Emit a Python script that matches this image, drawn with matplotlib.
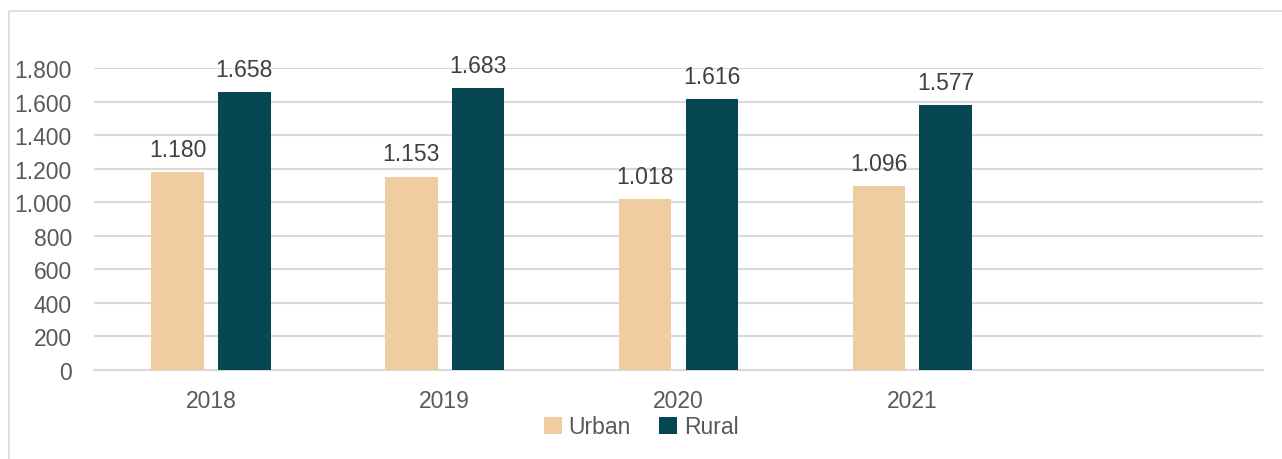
import matplotlib
matplotlib.use("Agg")
import matplotlib.pyplot as plt
import numpy as np
from matplotlib.patches import Rectangle

years = ["2018", "2019", "2020", "2021"]
urban = [1180, 1153, 1018, 1096]
rural = [1658, 1683, 1616, 1577]
yticks = [0, 200, 400, 600, 800, 1000, 1200, 1400, 1600, 1800]

URBAN_COLOR = "#F0CDA0"
RURAL_COLOR = "#074751"
TEXT_COLOR = "#595959"
GRID_COLOR = "#D9D9D9"
FS = 16.5


def dot_fmt(v):
    # Excel style: dot as thousands separator
    return f"{v:,}".replace(",", ".")


plt.rcParams["font.family"] = ["Liberation Sans", "DejaVu Sans"]

W, H = 1282, 460
fig = plt.figure(figsize=(W / 100, H / 100), dpi=100)

# outer chart border (light gray frame, runs off the right and bottom edges)
fig.patches.append(Rectangle((9 / W, -0.1), 1.2, 1.1 - 12 / H, transform=fig.transFigure,
                             fill=False, edgecolor="#D9D9D9", linewidth=1.2))

ax = fig.add_axes([94 / W, 1 - 371 / H, (1263 - 94) / W, (371 - 69) / H])

x = np.arange(len(years))
bw = 0.225
gap = 0.06
b1 = ax.bar(x - (bw + gap) / 2, urban, bw, color=URBAN_COLOR, zorder=3, label="Urban")
b2 = ax.bar(x + (bw + gap) / 2, rural, bw, color=RURAL_COLOR, zorder=3, label="Rural")

for bars, vals in ((b1, urban), (b2, rural)):
    for rect, v in zip(bars, vals):
        ax.annotate(dot_fmt(v), (rect.get_x() + rect.get_width() / 2, v),
                    xytext=(0, 8), textcoords="offset points",
                    ha="center", va="bottom", fontsize=FS, color="#404040",
                    annotation_clip=False)

ax.set_xlim(-0.5, 4.5)
ax.set_ylim(0, 1800)
ax.set_xticks(x)
ax.set_xticklabels(years)
ax.set_yticks(yticks)
ax.set_yticklabels([dot_fmt(v) for v in yticks])
ax.tick_params(axis="both", length=0, labelsize=FS, labelcolor=TEXT_COLOR)
ax.tick_params(axis="x", pad=14)
ax.tick_params(axis="y", pad=16)

ax.grid(axis="y", color=GRID_COLOR, linewidth=1.5, zorder=0)
for s in ("top", "right", "left"):
    ax.spines[s].set_visible(False)
ax.spines["bottom"].set_color(GRID_COLOR)
ax.spines["bottom"].set_linewidth(1.5)

ax.legend(loc="center", bbox_to_anchor=(0.5, 1 - 428 / H), bbox_transform=fig.transFigure,
          ncol=2, frameon=False, fontsize=FS, labelcolor=TEXT_COLOR,
          handlelength=0.8, handleheight=0.8, handletextpad=0.3, columnspacing=1.2)

fig.savefig("out.png", dpi=100)
